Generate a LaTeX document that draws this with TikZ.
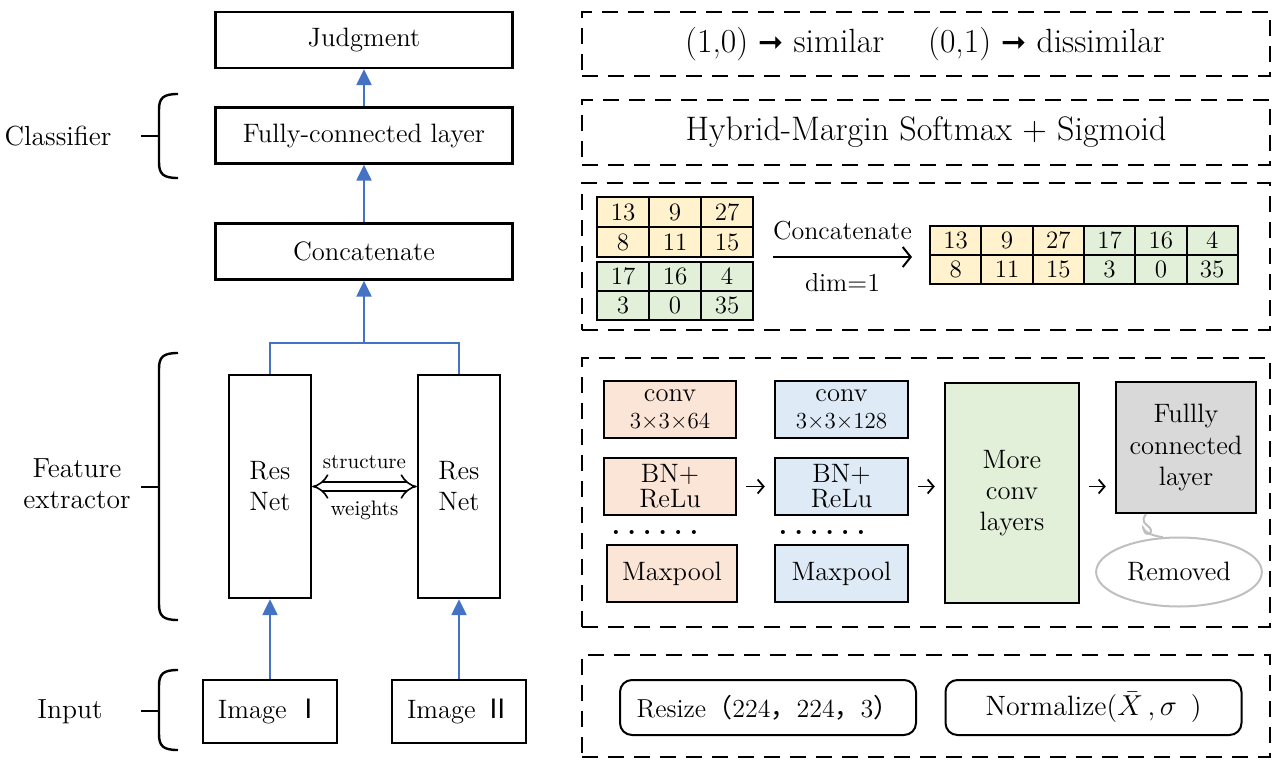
\documentclass[tikz,border=0pt]{standalone}
\usepackage{bm}
\usepackage{fontspec}
\newfontfamily\cjk{Noto Sans CJK SC}
\newfontfamily\symfont{DejaVu Sans}
\usetikzlibrary{arrows.meta,shapes.geometric,positioning,calc}
\definecolor{netblue}{RGB}{68,114,196}
\definecolor{cellyellow}{RGB}{255,242,204}
\definecolor{cellgreen}{RGB}{226,240,217}
\definecolor{convsalmon}{RGB}{251,229,214}
\definecolor{convblue}{RGB}{222,235,247}
\definecolor{fcgrey}{RGB}{217,217,217}
\definecolor{calloutgrey}{RGB}{191,191,191}
\newcommand{\fsz}[2]{\fontsize{#1}{#2}\selectfont}
\newcommand{\sixdots}{\textbf{.\hspace{3.4pt}.\hspace{3.4pt}.\hspace{3.4pt}.\hspace{3.4pt}.\hspace{3.4pt}.}}
\newcommand{\maps}{{\symfont\fsz{15}{16}➞}}

\begin{document}
\begin{tikzpicture}[x=0.5pt, y=-0.5pt,
    blk/.style={draw, line width=1.2pt, minimum width=148.5pt, minimum height=28pt,
        inner sep=2pt, align=center, font=\fsz{13.3}{15.5}},
    resblk/.style={blk, minimum width=41pt, minimum height=111.5pt},
    imgblk/.style={blk, minimum width=67pt, minimum height=31.5pt},
    barr/.style={-{Triangle[length=8pt, width=7.5pt]}, line width=1.2pt, netblue},
    bline/.style={line width=1.2pt, netblue},
    brace/.style={line width=1.2pt},
    grp/.style={font=\fsz{13.8}{15.5}, align=center},
    dbox/.style={draw, line width=1pt, dash pattern=on 8pt off 5pt,
        minimum width=344pt, inner sep=0pt},
    cell/.style={draw, line width=1pt, minimum width=26pt, minimum height=15pt,
        inner sep=0pt, font=\fsz{12.5}{14}},
    layer/.style={draw, line width=1.2pt, minimum width=66pt, minimum height=28.5pt,
        inner sep=1pt, align=center, font=\fsz{13.3}{12.5}},
    sarr/.style={-{Straight Barb[length=3pt, width=7pt]}, line width=0.9pt,
        shorten >=4.5pt, shorten <=4.5pt},
    catarr/.style={-{Straight Barb[length=4pt, width=10pt]}, line width=1pt},
    prep/.style={draw, line width=1pt, rounded corners=6pt, minimum width=148pt,
        minimum height=27.5pt, font=\fsz{13}{15}}
]
    \useasboundingbox (0,0) rectangle (1275,760);

    % left column: network
    \node[blk] (judge) at (364,40) {Judgment};
    \node[blk] (fcl) at (364,135.5) {Fully-connected layer};
    \node[blk] (concat) at (364,251.5) {Concatenate};
    \node[resblk] (resA) at (270,486.5) {Res\\Net};
    \node[resblk] (resB) at (459,486.5) {Res\\Net};
    \node[imgblk] (imgA) at (270,711.5) {Image~{\cjk Ⅰ}};
    \node[imgblk] (imgB) at (459,711.5) {Image~{\cjk Ⅱ}};

    \draw[barr] (imgA) -- (resA);
    \draw[barr] (imgB) -- (resB);
    \coordinate (merge) at (364,343);
    \draw[bline] (resA.north) |- (merge) -| (resB.north);
    \draw[barr] (merge) -- (concat);
    \draw[barr] (concat) -- (fcl);
    \draw[barr] (fcl) -- (judge);

    \draw[double, double distance=3.5pt, line width=0.8pt, {Implies}-{Implies}] (resA) --
        node[midway, yshift=12pt, font=\fsz{10.5}{12}] (shareS) {structure}
        node[midway, yshift=-12pt, font=\fsz{10.5}{12}] (shareW) {weights} (resB);

    % braces and group labels
    \foreach \top/\bot/\mid in {94/178/136, 353/620/487, 670/750/711} {
        \draw[brace] (178,\top) .. controls (163,\top) and (159,\top+4) .. (159,\top+16)
            -- (159,\bot-16) .. controls (159,\bot-4) and (163,\bot) .. (178,\bot);
        \draw[brace] (141,\mid) -- (159,\mid);
    }
    \node[grp] (lblcls) at (58,136) {Classifier};
    \node[grp] (lblfeat) at (77,484) {Feature\\extractor};
    \node[grp] (lblin) at (70,712) {Input};

    % right column: output and loss
    \node[dbox, minimum height=32pt] (outbox) at (926,44) {};
    \node[font=\fsz{16.8}{19}] (simtxt) at (925,44)
        {(1,0)~\maps~similar\hspace{22pt}(0,1)~\maps~dissimilar};
    \node[dbox, minimum height=32.5pt, font=\fsz{17}{19}] (lossbox) at (926,132.5)
        {Hybrid-Margin Softmax + Sigmoid};

    % concatenation example
    \node[dbox, minimum height=73.5pt] (catbox) at (926,256.5) {};
    \foreach \v [count=\i from 0] in {13,9,27,8,11,15} {
        \pgfmathtruncatemacro\c{mod(\i,3)}
        \pgfmathtruncatemacro\r{div(\i,3)}
        \node[cell, fill=cellyellow] (ya\i) at (623+52*\c, 212+30*\r) {\v};
        \node[cell, fill=cellyellow, minimum width=25.65pt, minimum height=14.5pt]
            (yc\i) at (955.7+51.3*\c, 240.5+29*\r) {\v};
    }
    \foreach \v [count=\i from 0] in {17,16,4,3,0,35} {
        \pgfmathtruncatemacro\c{mod(\i,3)}
        \pgfmathtruncatemacro\r{div(\i,3)}
        \node[cell, fill=cellgreen, minimum height=14.5pt] (ga\i) at (623+52*\c, 276.5+29*\r) {\v};
        \node[cell, fill=cellgreen, minimum width=25.65pt, minimum height=14.5pt]
            (gc\i) at (955.7+51.3*\c+153.9, 240.5+29*\r) {\v};
    }
    \coordinate (catfrom) at (773,257);
    \coordinate (catto) at (912,257);
    \draw[catarr] (catfrom) --
        node[midway, yshift=13pt, font=\fsz{13}{14}] (catlbl) {Concatenate}
        node[midway, yshift=-13pt, font=\fsz{13}{14}] (dimlbl) {dim=1} (catto);

    % backbone layers
    \node[dbox, minimum height=134.5pt] (convbox) at (926,492.5) {};
    \node[layer, fill=convsalmon] (convA) at (670,409.5) {conv\\[1pt]{\fsz{11.5}{13}3×3×64}};
    \node[layer, fill=convsalmon] (bnA) at (670,486.5) {BN+\\ReLu};
    \node[font=\fsz{14}{15}, inner sep=0pt] (dotsA) at (655,532) {\sixdots};
    \node[layer, fill=convsalmon, minimum width=65pt] (poolA) at (672,573.5) {Maxpool};
    \node[layer, fill=convblue, minimum width=66.5pt] (convB) at (841.5,409.5) {conv\\[1pt]{\fsz{11.5}{13}3×3×128}};
    \node[layer, fill=convblue, minimum width=66.5pt] (bnB) at (841.5,486.5) {BN+\\ReLu};
    \node[font=\fsz{14}{15}, inner sep=0pt] (dotsB) at (822,532) {\sixdots};
    \node[layer, fill=convblue, minimum width=66.5pt] (poolB) at (841.5,573.5) {Maxpool};
    \node[layer, fill=cellgreen, minimum width=67pt, minimum height=110pt,
        font=\fsz{13.3}{15.5}] (more) at (1012,493) {More\\conv\\layers};
    \node[layer, fill=fcgrey, minimum width=70pt, minimum height=65.5pt,
        font=\fsz{13.3}{15.75}] (fcbox) at (1186,447.5) {Fullly\\connected\\layer};
    \node[draw=calloutgrey, line width=1pt, ellipse, minimum width=81pt, minimum height=34.5pt,
        font=\fsz{13.3}{15.5}] (removed) at (1179,572) {Removed};

    \draw[sarr] (bnA) -- (bnB);
    \draw[sarr] (bnB.east) -- (bnB.east -| more.west);
    \draw[sarr] (more.east |- bnB.east) -- (fcbox.west |- bnB.east);
    \draw[calloutgrey, line width=1pt] ($(fcbox.south)+(-40,0)$)
        .. controls (1140,522) and (1146,524) .. (1150,528)
        .. controls (1154,534) and (1145,537) .. (1144,530)
        .. controls (1143,523) and (1139,534) .. (removed.115);

    % preprocessing
    \node[dbox, minimum height=51pt] (prepbox) at (926,706) {};
    \node[prep] (resize) at (768,707.5)
        {Resize{\cjk （}224{\cjk ，}224{\cjk ，}3{\cjk ）}};
    \node[prep, font=\fsz{14}{16}] (norm) at (1093.5,707.5) {Normalize($\bar{X}$\,,\,$\sigma$\, )};
\end{tikzpicture}
\end{document}
